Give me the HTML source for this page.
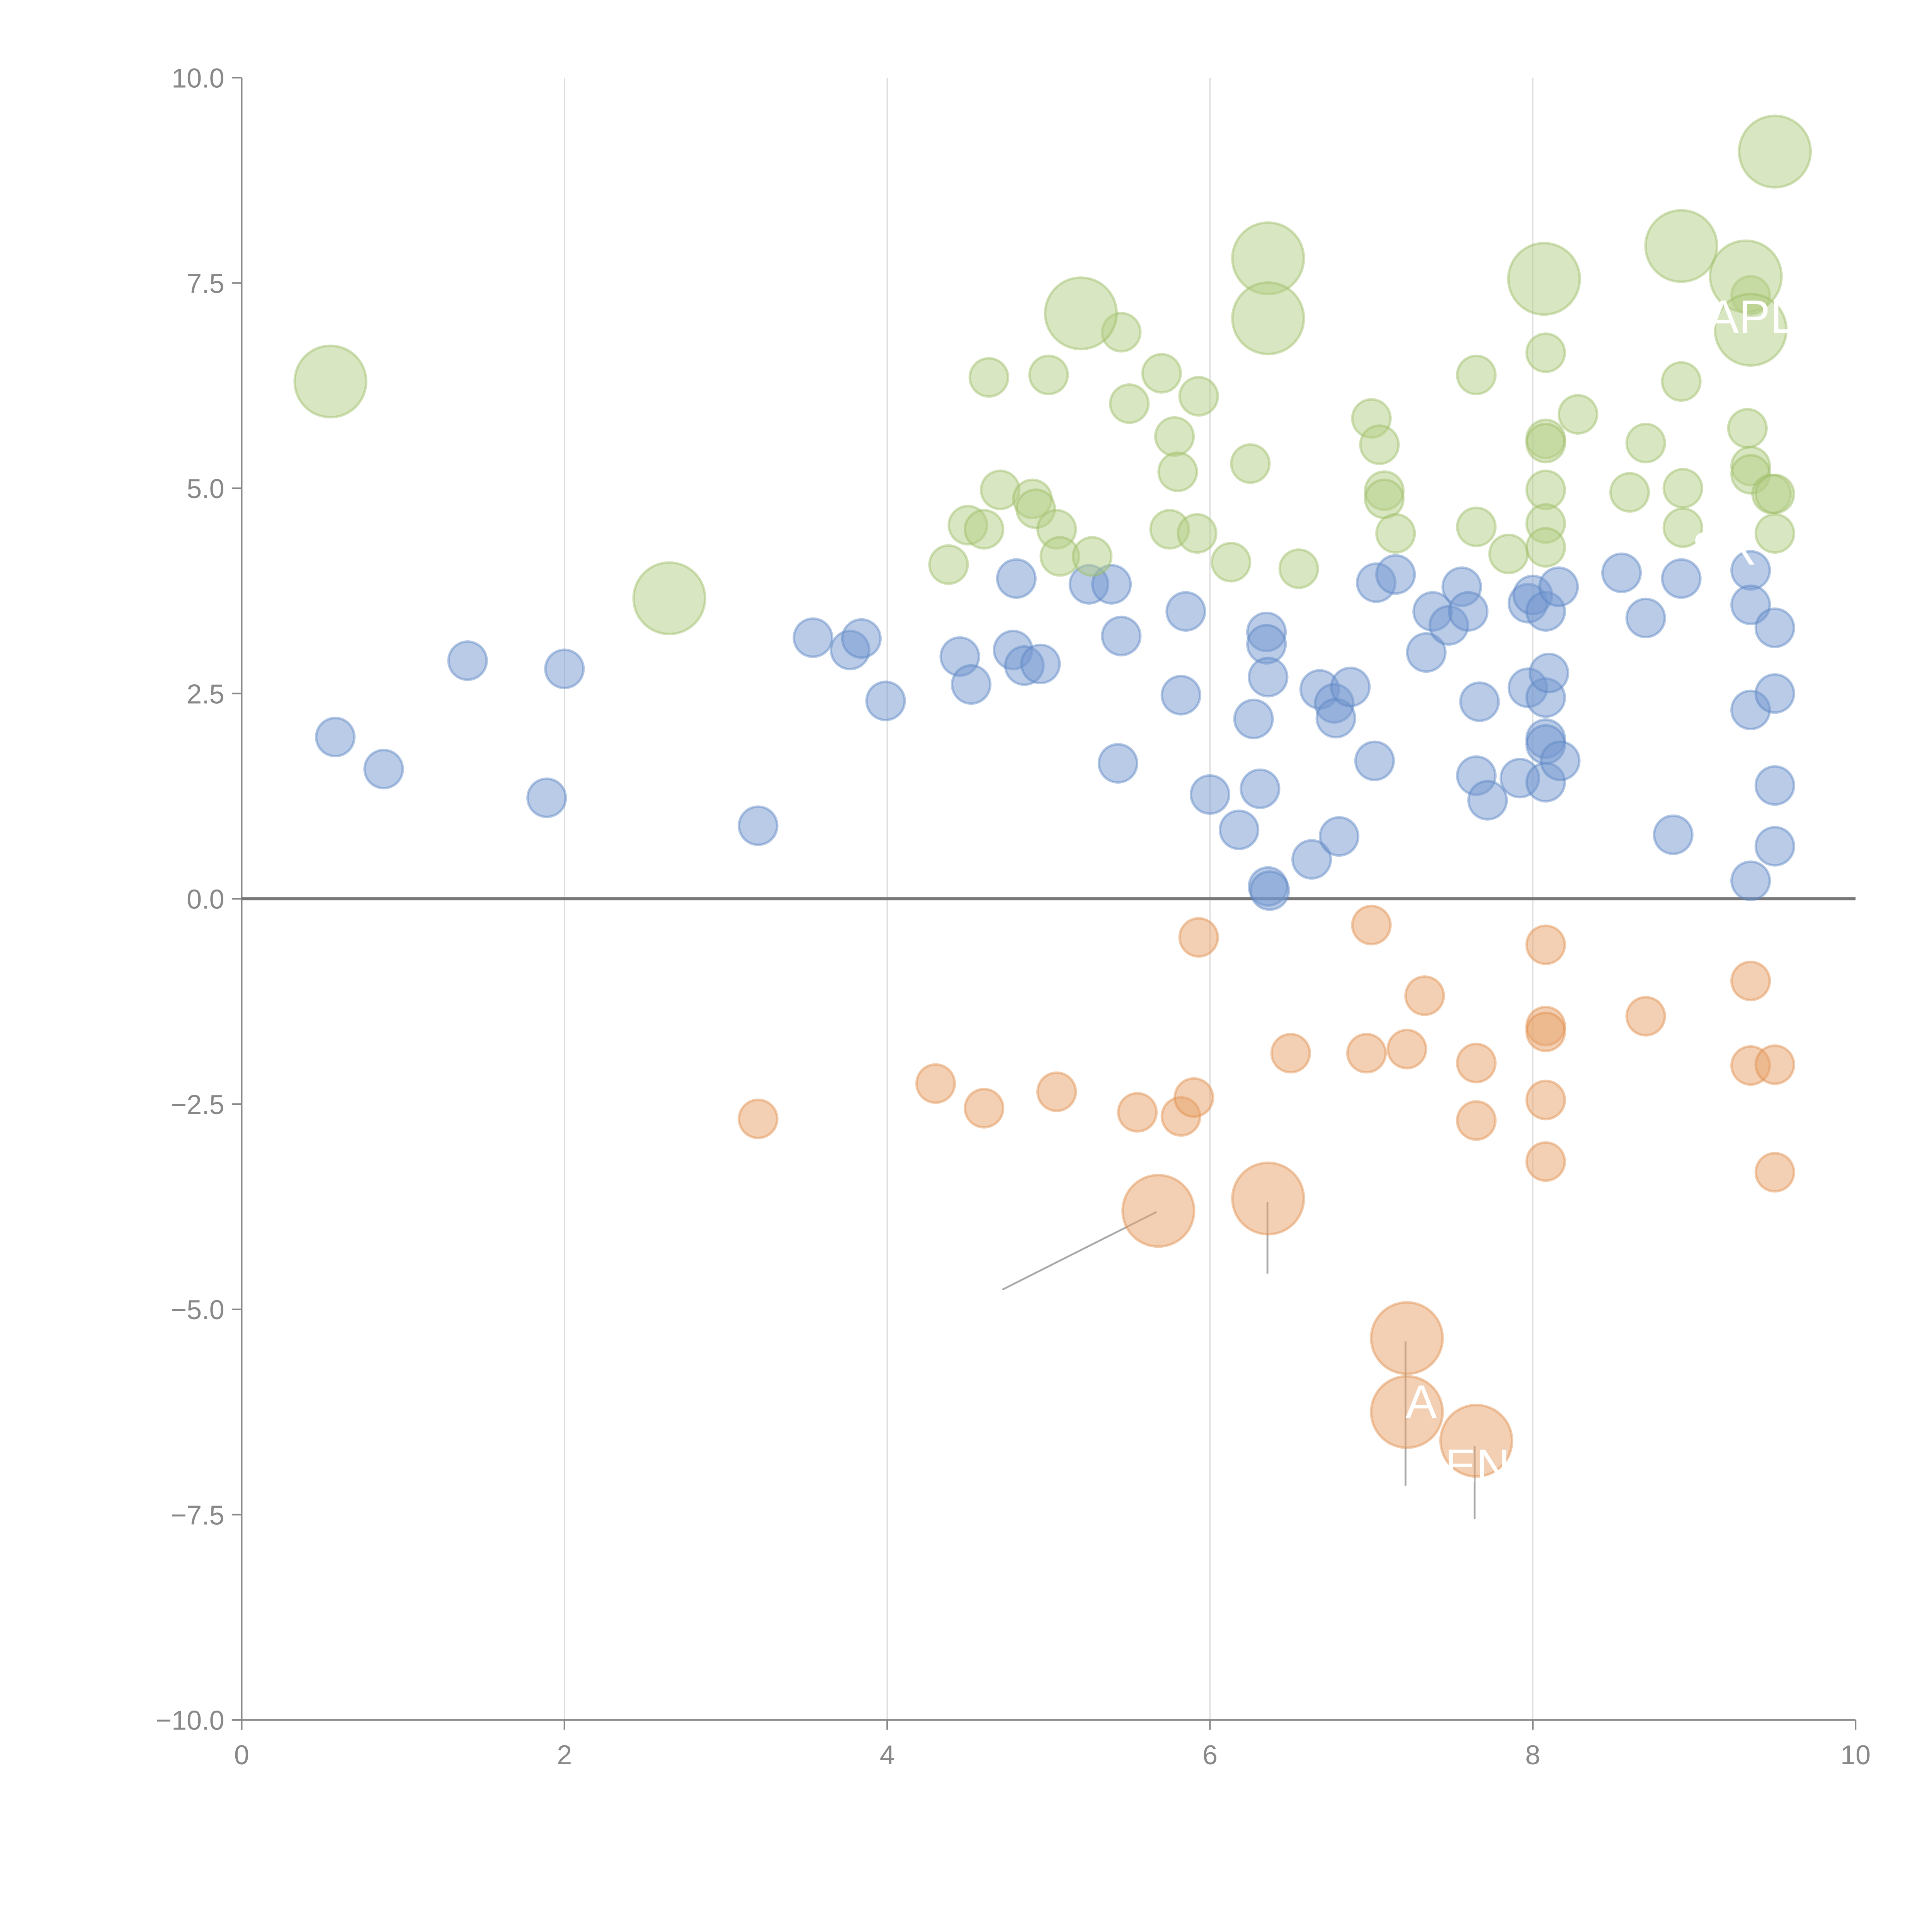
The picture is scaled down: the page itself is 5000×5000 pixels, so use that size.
<!DOCTYPE html>
<html><head><meta charset="utf-8"><style>html,body{margin:0;padding:0;background:#fff}svg{display:block}</style></head>
<body>
<svg id="chart" width="5000" height="5000" viewBox="0 0 1567 1567" xmlns="http://www.w3.org/2000/svg" font-family="Liberation Sans, sans-serif">
<g id="grid"></g>
<g id="axes"></g>
<g id="leaders"></g>
<g id="marks"></g>
<g id="labels"></g>
</svg>
<script>
const xTicks=[0,2,4,6,8,10];
const yTicks=[-10,-7.5,-5,-2.5,0,2.5,5,7.5,10];
const blueX=[0.58,0.88,1.4,1.89,2.0,3.2,3.54,3.77,3.84,3.99,4.45,4.52,4.78,4.8,4.85,4.95,5.25,5.39,5.45,5.43,5.82,5.85,6.0,6.18,6.27,6.31,6.35,6.35,6.36,6.36,6.37,6.63,6.68,6.77,6.78,6.8,6.87,7.02,7.03,7.15,7.34,7.38,7.48,7.56,7.6,7.65,7.67,7.72,7.92,7.97,7.97,8.0,8.08,8.08,8.1,8.08,8.08,8.08,8.16,8.17,8.55,8.7,8.87,8.92,9.35,9.35,9.35,9.35,9.5,9.5,9.5,9.5];
const blueY=[1.97,1.58,2.9,1.23,2.8,0.89,3.18,3.03,3.17,2.41,2.95,2.61,3.03,3.9,2.84,2.86,3.83,3.83,3.2,1.65,2.48,3.5,1.27,0.84,2.19,1.34,3.25,3.1,2.7,0.15,0.1,0.48,2.55,2.38,2.2,0.76,2.58,1.68,3.85,3.95,3.0,3.5,3.33,3.8,3.5,1.5,2.4,1.2,1.47,3.6,2.57,3.7,3.5,2.45,2.75,1.95,1.88,1.42,3.8,1.68,3.97,3.42,0.78,3.9,4.0,3.58,2.3,0.22,3.3,2.5,1.38,0.64];
const greenX=[4.38,4.5,4.6,4.63,4.7,4.9,4.92,5.0,5.05,5.07,5.27,5.45,5.5,5.7,5.75,5.78,5.8,5.92,5.93,6.13,6.25,6.55,7.0,7.05,7.08,7.08,7.15,7.65,7.65,7.85,8.08,8.08,8.08,8.08,8.08,8.08,8.28,8.6,8.7,8.92,8.93,8.93,9.33,9.35,9.35,9.48,9.5,9.5,9.35];
const greenY=[4.07,4.55,4.5,6.35,4.98,4.87,4.75,6.38,4.5,4.17,4.17,6.9,6.03,6.4,4.5,5.63,5.2,4.45,6.12,4.1,5.3,4.02,5.85,5.53,4.97,4.87,4.45,6.38,4.53,4.2,6.65,5.6,5.55,4.98,4.57,4.28,5.9,4.95,5.55,6.3,5.0,4.52,5.73,5.27,5.17,4.93,4.93,4.45,7.35];
const greenBigX=[0.55,2.65,5.2,6.36,6.36,8.07,8.92,9.32,9.35,9.5];
const greenBigY=[6.3,3.66,7.13,7.8,7.07,7.55,7.95,7.58,6.93,9.1];
const orangeX=[3.2,4.3,4.6,5.05,5.55,5.82,5.9,5.93,6.5,6.97,7.0,7.22,7.33,7.65,7.65,8.08,8.08,8.08,8.08,8.08,8.7,9.35,9.35,9.5,9.5];
const orangeY=[-2.68,-2.25,-2.55,-2.35,-2.6,-2.65,-2.42,-0.47,-1.88,-1.88,-0.32,-1.83,-1.18,-2.0,-2.7,-0.56,-1.55,-1.62,-2.45,-3.2,-1.43,-1.0,-2.03,-2.02,-3.33];
const orangeBigX=[5.68,6.36,7.22,7.22,7.65];
const orangeBigY=[-3.8,-3.65,-5.35,-6.25,-6.6];

const NS='http://www.w3.org/2000/svg';
const X0=196,X1=1505,YT=63,YB=1395;
function sx(v){return X0+(v-0)/(10-0)*(X1-X0);}
function sy(v){return YB-(v+10)/20*(YB-YT);}
function mk(tag,attrs,parent){const e=document.createElementNS(NS,tag);for(const k in attrs)e.setAttribute(k,attrs[k]);parent.appendChild(e);return e;}
const grid=document.getElementById('grid'),axes=document.getElementById('axes'),marks=document.getElementById('marks'),leaders=document.getElementById('leaders'),labels=document.getElementById('labels');

xTicks.forEach(t=>{
  if(t>0&&t<10){const g=mk('line',{x1:sx(t),x2:sx(t),y1:YT,y2:YB,stroke:'#dcdcdc','stroke-width':1},grid);
  
  }
  const tk=mk('line',{x1:sx(t),x2:sx(t),y1:YB,y2:YB+8,stroke:'#888','stroke-width':1.3},axes);
  
  
  const tx=mk('text',{x:sx(t),y:YB+36,'text-anchor':'middle','font-size':22,fill:'#888'},axes);
  tx.textContent=String(t);
  
  
});
yTicks.forEach(t=>{
  const tk=mk('line',{x1:X0-8,x2:X0,y1:sy(t),y2:sy(t),stroke:'#888','stroke-width':1.3},axes);
  
  
  const tx=mk('text',{x:X0-14,y:sy(t)+8,'text-anchor':'end','font-size':22,fill:'#888'},axes);
  tx.textContent=(t<0?'\u2212':'')+Math.abs(t).toFixed(1);
  
  
});
let a=mk('line',{x1:X0,x2:X0,y1:YT,y2:YB+8,stroke:'#888','stroke-width':1.3},axes);


a=mk('line',{x1:X0-8,x2:X1,y1:YB,y2:YB,stroke:'#888','stroke-width':1.3},axes);


a=mk('line',{x1:X0,x2:X1,y1:sy(0),y2:sy(0),stroke:'#777','stroke-width':2.5},axes);



function draw(xs,ys,r,fill,stroke,name){
  xs.forEach((x,i)=>{
    const c=mk('circle',{cx:sx(x),cy:sy(ys[i]),r:r,fill:fill,'fill-opacity':0.5,stroke:stroke,'stroke-opacity':0.45,'stroke-width':2},marks);
    
    
  });
}
draw(blueX,blueY,15.5,'#7397cf','#5b84c4','blue-bubble');
draw(greenX,greenY,15.5,'#b3cd85','#9bbd64','green-bubble');
draw(greenBigX,greenBigY,29,'#b3cd85','#9bbd64','green-big-bubble');
draw(orangeX,orangeY,15.5,'#e8a26a','#e08d4c','orange-bubble');
draw(orangeBigX,orangeBigY,29,'#e8a26a','#e08d4c','orange-big-bubble');

[[938,983,813,1046],[1028,975,1028,1033],[1140,1088,1140,1205],[1196,1173,1196,1232]].forEach(l=>{
  const e=mk('line',{x1:l[0],y1:l[1],x2:l[2],y2:l[3],stroke:'#aaa','stroke-width':1.5},leaders);
  
  
});
[[1140,1150,'A'],[1172,1202,'EN'],[1385,270,'APL'],[1372,458,'SR']].forEach(t=>{
  const e=mk('text',{x:t[0],y:t[1],'font-size':38,fill:'#fff'},labels);
  e.textContent=t[2];
  
  
});
</script>
</body></html>
